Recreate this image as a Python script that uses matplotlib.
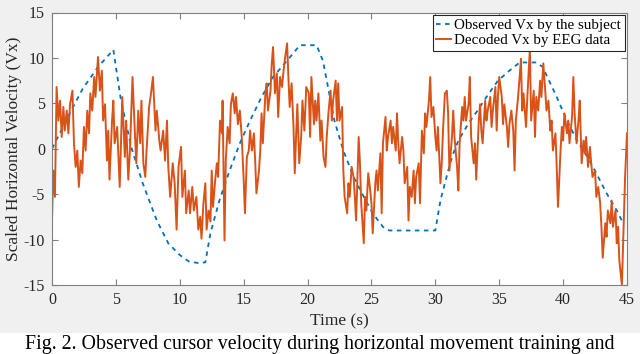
#observed vs decoded horizontal cursor velocity
import matplotlib.pyplot as plt
from matplotlib.patches import Rectangle

# observed Vx (blue dashed)
obs_t = [0, 1.5, 2.4, 3.6, 4.8, 5.4, 6.2, 7.1, 8.2, 9.1, 10.0, 10.7, 11.5, 12.0, 12.4, 13.1,
         13.9, 14.7, 15.5, 16.4, 17.3, 18.4, 19.4, 19.6, 20.7, 21.2, 21.6, 22.1, 22.8, 23.6,
         24.4, 25.1, 25.9, 26.4, 30.0, 30.4, 30.8, 31.3, 31.8, 32.6, 33.3, 34.0, 34.9, 35.8,
         36.6, 37.2, 37.9, 38.4, 39.0, 39.5, 40.3, 41.1, 41.9, 42.6, 43.4, 44.2, 44.7]
obs_v = [0, 4.2, 6.6, 9.0, 10.9, 5.3, 0.2, -3.8, -7.9, -10.4, -11.7, -12.4, -12.6, -12.5, -9.3, -5.7,
         -2.4, 0.6, 3.1, 5.7, 7.9, 9.7, 11.4, 11.4, 11.4, 9.7, 6.8, 3.1, -0.2, -3.1,
         -5.3, -7.1, -8.6, -9.0, -9.0, -5.7, -3.5, -0.9, 0.9, 2.8, 4.2, 5.7, 7.5, 8.6,
         9.5, 9.5, 9.5, 9.0, 7.2, 5.7, 3.1, 0.9, -0.9, -2.7, -4.9, -6.8, -8.2]

# decoded Vx from EEG (orange)
dec_t = [0.0, 0.1, 0.23, 0.36, 0.5, 0.63, 0.76, 0.89, 1.0, 1.15, 1.28, 1.41, 1.6, 1.72, 1.85, 1.98,
         2.1, 2.24, 2.37, 2.5, 2.63, 2.76, 2.9, 3.0, 3.15, 3.3, 3.4, 3.6, 3.75, 3.9, 4.0, 4.15,
         4.3, 4.4, 4.5, 4.7, 4.8, 4.9, 5.1, 5.3, 5.4, 5.5, 5.7, 5.8, 5.97, 6.1, 6.3, 6.5,
         6.6, 6.75, 6.9, 7.0, 7.15, 7.3, 7.4, 7.6, 7.75, 7.9, 8.1, 8.2, 8.4, 8.5, 8.7, 8.85,
         9.0, 9.1, 9.25, 9.45, 9.6, 9.75, 9.9, 10.1, 10.2, 10.4, 10.5, 10.7, 10.8, 10.98, 11.1, 11.3,
         11.45, 11.6, 11.7, 11.85, 12.0, 12.1, 12.25, 12.4, 12.5, 12.6, 12.75, 12.9, 13.0, 13.15, 13.3, 13.35,
         13.5, 13.6, 13.75, 13.9, 14.0, 14.15, 14.3, 14.4, 14.55, 14.7, 14.85, 15.0, 15.1, 15.25, 15.4, 15.5,
         15.65, 15.8, 15.9, 16.0, 16.2, 16.3, 16.4, 16.5, 16.7, 16.8, 16.9, 17.1, 17.2, 17.3, 17.45, 17.6,
         17.7, 17.85, 18.0, 18.1, 18.25, 18.4, 18.5, 18.6, 18.75, 18.9, 19.0, 19.1, 19.2, 19.35, 19.5, 19.6,
         19.75, 19.9, 20.1, 20.2, 20.3, 20.5, 20.6, 20.7, 20.85, 21.0, 21.1, 21.25, 21.4, 21.5, 21.65, 21.8,
         21.9, 22.0, 22.2, 22.3, 22.4, 22.5, 22.7, 22.8, 22.9, 23.1, 23.2, 23.3, 23.45, 23.6, 23.7, 23.8,
         24.0, 24.1, 24.2, 24.4, 24.5, 24.6, 24.75, 24.9, 25.0, 25.1, 25.3, 25.4, 25.5, 25.7, 25.8, 25.9,
         26.1, 26.2, 26.3, 26.5, 26.6, 26.7, 26.9, 27.0, 27.1, 27.2, 27.4, 27.5, 27.6, 27.8, 27.9, 28.0,
         28.15, 28.3, 28.4, 28.5, 28.7, 28.8, 28.95, 29.1, 29.2, 29.3, 29.5, 29.6, 29.7, 29.85, 30.0, 30.1,
         30.2, 30.4, 30.5, 30.6, 30.75, 30.9, 31.0, 31.1, 31.3, 31.4, 31.5, 31.7, 31.8, 31.9, 32.1, 32.2,
         32.3, 32.4, 32.6, 32.7, 32.8, 33.0, 33.1, 33.2, 33.4, 33.5, 33.6, 33.7, 33.9, 34.0, 34.1, 34.3,
         34.4, 34.5, 34.7, 34.8, 34.9, 35.0, 35.2, 35.3, 35.4, 35.6, 35.7, 35.8, 35.95, 36.1, 36.2, 36.3,
         36.45, 36.6, 36.7, 36.8, 36.9, 37.1, 37.2, 37.4, 37.5, 37.7, 37.8, 37.9, 38.05, 38.2, 38.3, 38.45,
         38.6, 38.7, 38.85, 39.0, 39.1, 39.2, 39.4, 39.5, 39.6, 39.8, 39.9, 40.0, 40.1, 40.3, 40.4, 40.5,
         40.7, 40.8, 40.9, 41.05, 41.2, 41.3, 41.45, 41.6, 41.7, 41.8, 41.95, 42.1, 42.2, 42.3, 42.5, 42.6,
         42.75, 42.9, 43.0, 43.1, 43.3, 43.4, 43.5, 43.7, 43.8, 43.9, 44.1, 44.2, 44.3, 44.4, 44.6, 44.7,
         44.85, 45.0]
dec_v = [-7.9, -2.4, -5.3, 6.8, 3.1, 5.3, 1.3, 4.6, 2.0, 4.2, 1.7, 4.9, 6.4, 0.6, -2.0, -0.2,
         -4.2, -1.3, -2.7, 2.4, -0.2, 4.2, 1.7, 6.1, 4.2, 7.9, 5.7, 10.1, 6.4, 8.6, 3.1, 4.9,
         -1.3, 2.0, -3.4, 3.1, 5.3, 0.6, 2.4, -4.2, 0.6, 5.7, -0.9, 3.1, -3.4, -0.2, 7.9, 1.3,
         -1.6, 4.2, 0.6, 5.3, -1.6, -3.1, -0.2, 4.6, 6.1, 7.9, 2.0, 4.2, 0.9, -0.2, 2.0, -1.3,
         3.1, -2.0, -5.3, -1.6, -3.8, -8.9, -2.0, 0.2, -5.3, -2.4, -7.1, -4.6, -7.1, -4.2, -6.8, -5.3,
         -8.9, -7.5, -9.9, -6.0, -3.8, -8.9, -6.8, -8.0, -2.4, -6.4, -3.8, -1.6, -3.1, 3.1, 1.7, 5.3,
         -10.1, -1.3, 2.4, 0.6, 4.9, 6.1, 3.9, 5.7, 2.7, 4.2, 1.3, -3.4, -7.1, -0.9, -0.2, 2.0,
         -0.2, 1.7, -1.3, -4.9, -2.4, -0.2, 3.9, 0.6, 6.1, 7.2, 4.2, 6.4, 9.4, 11.2, 6.1, 8.3,
         3.5, 7.9, 6.8, 8.3, 10.1, 11.6, 7.9, 4.6, 7.2, 2.4, -2.7, 1.3, 4.9, -1.6, 1.3, 5.3,
         2.0, 6.8, 6.1, 1.3, 7.9, 2.7, 5.3, 3.1, 6.1, 0.9, 3.1, -0.9, -2.0, 1.3, 4.2, 6.4,
         3.1, 5.3, 7.5, 3.1, 7.2, 3.1, 4.6, -2.4, -5.3, -7.1, -3.8, -5.3, -2.0, -3.1, -5.3, -7.9,
         1.3, -1.6, -6.0, -10.4, -5.3, -6.8, -2.7, -4.5, -6.0, -9.3, -3.8, -2.4, -4.6, -0.5, -7.1, 0.6,
         3.5, -0.2, 1.3, 3.1, 0.6, 2.4, -0.2, 3.9, 0.6, -1.6, 1.3, -0.2, -3.8, -2.0, -7.9, -4.2,
         -5.3, -2.4, -6.0, -3.1, -1.6, -6.0, 2.0, -0.5, 3.9, 2.4, 5.3, 7.9, 3.5, 4.6, 1.3, -0.2,
         2.4, -3.8, -1.6, 2.0, 6.1, 6.4, 3.9, -2.4, 1.3, 4.2, 1.3, -2.0, -4.6, 0.6, 4.6, 3.1,
         5.7, 3.1, 4.9, 7.9, 1.3, -1.6, 0.6, -3.4, 3.1, 4.9, 2.0, 0.6, 5.3, 3.1, 4.2, 5.7,
         2.4, 4.2, 6.8, 2.0, 5.7, 7.9, 5.7, 2.7, 4.9, 2.4, 0.2, 2.7, 4.2, 2.0, -2.4, 3.1,
         5.3, 7.9, 9.9, 4.2, 6.1, 2.4, 5.7, 11.0, 3.1, 6.4, 1.3, 5.7, 4.2, 7.5, 5.7, 9.4,
         6.4, 4.2, 5.3, 2.0, 3.1, -0.2, 1.7, -2.0, -6.4, -0.2, 2.4, 0.9, 3.9, 1.7, 3.1, 0.6,
         3.5, 7.9, 3.9, 0.6, 3.1, 5.3, -1.6, 0.9, -0.5, 1.3, -2.0, 0.2, -1.6, -3.1, -2.4, -5.3,
         -4.2, -6.0, -8.6, -12.0, -8.2, -9.7, -6.8, -8.2, -5.7, -8.6, -6.8, -10.4, -8.6, -12.3, -15.0, -10.4,
         -3.1, 1.7]

x_ticks = [0, 5, 10, 15, 20, 25, 30, 35, 40, 45]
y_ticks = [-15, -10, -5, 0, 5, 10, 15]

plt.rcParams['font.family'] = ['Liberation Serif', 'DejaVu Serif']
plt.rcParams['axes.unicode_minus'] = False

fig = plt.figure(figsize=(6.4, 3.54), dpi=100, facecolor='white')
# matlab style grey figure background above the caption
fig.patches.append(Rectangle((0, 21 / 354), 1, 1, transform=fig.transFigure,
                             facecolor='#f0f0f0', edgecolor='none', zorder=-10))

ax = fig.add_axes([52 / 640, 1 - 285 / 354, 575 / 640, 272.5 / 354])
ax.set_facecolor('white')

ax.plot(obs_t, obs_v, linestyle=(0, (2.5, 2.5)), color='#0072BD', linewidth=1.3,
        label='Observed Vx by the subject')
ax.plot(dec_t, dec_v, color='#D95319', linewidth=1.4, label='Decoded Vx by EEG data')

ax.set_xlim(0, 45)
ax.set_ylim(-15, 15)
ax.set_xticks(x_ticks)
ax.set_yticks(y_ticks)
ax.tick_params(direction='in', top=True, right=True, length=4, width=0.8,
               color='#808080', labelcolor='#262626', labelsize=11.5, pad=5)
for s in ax.spines.values():
    s.set_color('#808080')
    s.set_linewidth(0.8)

ax.set_xlabel('Time (s)', fontsize=12.5, color='#262626', labelpad=4)
ax.set_ylabel('Scaled Horizontal Velocity (Vx)', fontsize=12.5, color='#262626', labelpad=1)

leg = ax.legend(loc='upper right', fontsize=10.8, handlelength=1.0, handletextpad=0.2,
                borderpad=0.25, labelspacing=0.1, fancybox=False, framealpha=1,
                borderaxespad=0.15)
leg.get_frame().set_edgecolor('#262626')
leg.get_frame().set_linewidth(0.8)

fig.text(25 / 640, 4.5 / 354, 'Fig. 2. Observed cursor velocity during horizontal movement training and',
         fontsize=14.3, ha='left', va='baseline', color='black')

fig.savefig('out.png', dpi=100, facecolor=fig.get_facecolor())
